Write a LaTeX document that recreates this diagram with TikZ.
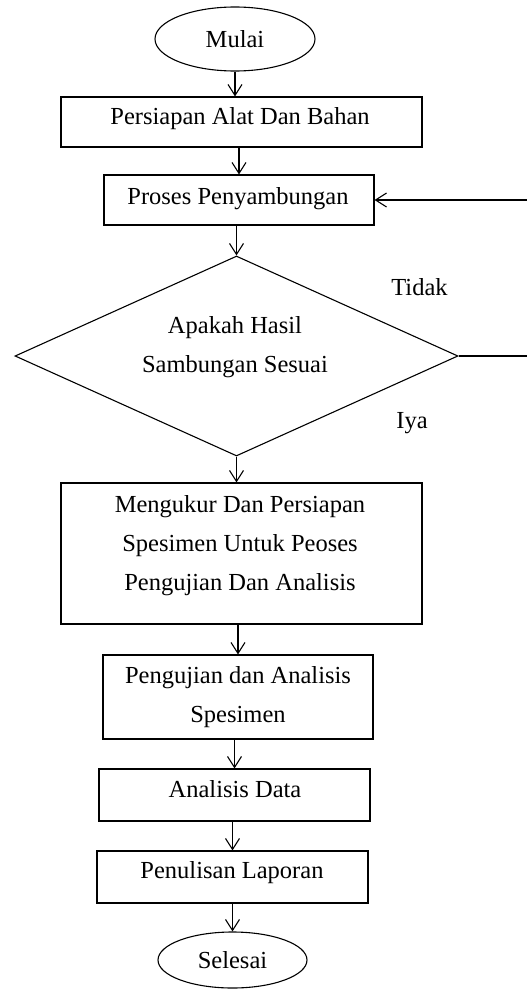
\documentclass[tikz,border=0pt]{standalone}
\usepackage{fontspec}
\setmainfont{Liberation Serif}
\usetikzlibrary{shapes.geometric,arrows.meta}
\begin{document}
\begin{tikzpicture}[x=1pt,y=-1pt,
  every node/.style={font=\fontsize{24.5}{39}\selectfont, inner sep=0pt},
  boxnode/.style={draw, rectangle, line width=1.1pt},
  ovalnode/.style={draw, ellipse, line width=1.1pt},
  decnode/.style={draw, diamond, line width=1.1pt},
  txt/.style={align=center},
  arr/.style={line width=1.1pt, -{Straight Barb[length=11pt,width=14pt,line width=1.1pt]}},
  conn/.style={line width=1.1pt}]
\useasboundingbox[fill=white] (0,0) rectangle (527,990);
% nodes
\node[ovalnode, minimum width=160pt, minimum height=64pt] (start) at (235,39) {Mulai};
\node[boxnode, minimum width=361pt, minimum height=50pt] (b1) at (241.5,122) {};
\node[txt] (t1) at (240,119) {Persiapan Alat Dan Bahan};
\node[boxnode, minimum width=270pt, minimum height=50pt] (b2) at (239,200) {};
\node[txt] (t2) at (238,199) {Proses Penyambungan};
\node[decnode, minimum width=443pt, minimum height=200pt] (dec) at (236.5,356) {};
\node[txt] (td) at (235,347) {Apakah Hasil\\Sambungan Sesuai};
\node[boxnode, minimum width=361pt, minimum height=141pt] (b3) at (241.5,553.5) {};
\node[txt] (t3) at (240,546) {Mengukur Dan Persiapan\\Spesimen Untuk Peoses\\Pengujian Dan Analisis};
\node[boxnode, minimum width=270pt, minimum height=84pt] (b4) at (238,697) {};
\node[txt] (t4) at (238,697) {Pengujian dan Analisis\\Spesimen};
\node[boxnode, minimum width=271pt, minimum height=52pt] (b5) at (234.5,795) {};
\node[txt] (t5) at (235,789) {Analisis Data};
\node[boxnode, minimum width=271pt, minimum height=52pt] (b6) at (232.5,877) {};
\node[txt] (t6) at (232,873) {Penulisan Laporan};
\node[ovalnode, minimum width=149pt, minimum height=56pt] (end) at (232.5,960) {Selesai};
% labels
\node (tidak) at (419.5,287) {Tidak};
\node (iya) at (412,423) {Iya};
% connectors
\coordinate (loopx) at (528.5,0);
\draw[arr] (start.south) -- (start.south |- b1.north);
\draw[arr] (b2.north |- b1.south) -- (b2.north);
\draw[arr] (dec.north |- b2.south) -- (dec.north);
\draw[arr] (dec.south) -- (dec.south |- b3.north);
\draw[arr] (b4.north |- b3.south) -- (b4.north);
\draw[arr] (b5.north |- b4.south) -- (b5.north);
\draw[arr] (b6.north |- b5.south) -- (b6.north);
\draw[arr] (end.north |- b6.south) -- (end.north);
\draw[arr] (dec.east) -- (dec.east -| loopx) |- (b2.east);
\end{tikzpicture}
\end{document}
